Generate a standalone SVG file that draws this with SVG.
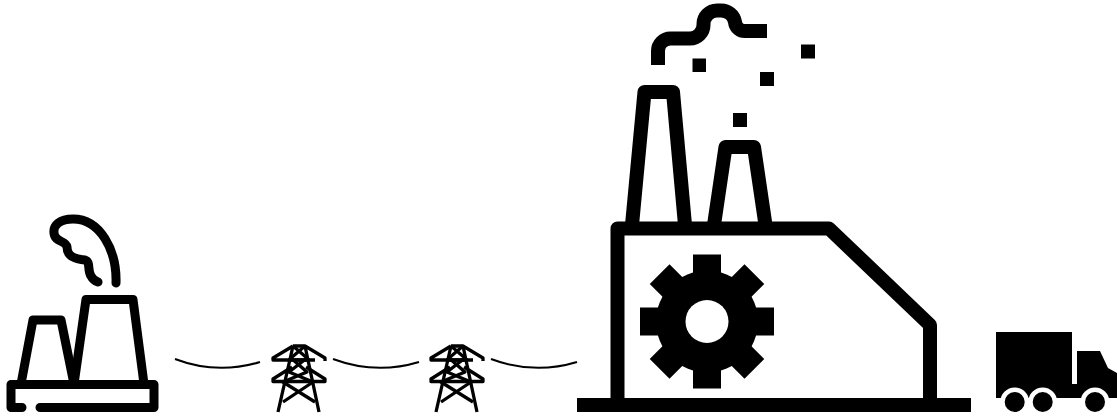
<svg xmlns="http://www.w3.org/2000/svg" xmlns:xlink="http://www.w3.org/1999/xlink" width="1117" height="416" viewBox="0 0 1117 416">
<style>
.plant{fill:none;stroke:#000;stroke-width:9;stroke-linecap:round;stroke-linejoin:round}
.fact{fill:none;stroke:#000;stroke-width:14;stroke-linejoin:round}
.wire{fill:none;stroke:#000;stroke-width:2}
.pyl{fill:none;stroke:#000;stroke-width:3.300;stroke-linejoin:round}
.solid{fill:#000;stroke:none}
</style>
<defs>
<g id="pylon">
<path class="pyl" d="M-5 346H7L27 358V361M-5 346L-25 358V360H17M-5 346L-20 412M7 346L21 412"/>
<path class="pyl" d="M-5 346L9 358L-9 372L15 382L-15 402M7 346L-7 358L9 372L-15 382L17 402"/>
<path class="pyl" d="M-6 367L-25 379V381.500H27V379L8 367M-10 360H12"/>
</g>
</defs>
<rect width="1117" height="416" fill="#fff"/>
<g id="connectors">
<path class="wire" d="M175 359Q217 375 260 362"/>
<path class="wire" d="M333 359Q376 375 419 362"/>
<path class="wire" d="M491 359Q534 375 577 362"/>
</g>
<g id="power-plant">
<path class="plant" d="M22 407.500H11V384.500H154V407.500H40"/>
<path class="plant" d="M21 384L33 320H61L74 384"/>
<path class="plant" d="M74 384L86 299.500H133L144 384"/>
<path class="plant" d="M116 283C117 250 100 219 73 219C60 219 53 225 54 233C55 243 66 240 67 247C67 256 74 259 85 260C91 262 87 270 91 276C93 280 95 281 98 282"/>
</g>
<g id="pylon-1"><use xlink:href="#pylon" href="#pylon" x="298"/></g>
<g id="pylon-2"><use xlink:href="#pylon" href="#pylon" x="456"/></g>
<g id="factory">
<path class="fact" d="M632 225L644.500 92H673L685 225"/>
<path class="fact" d="M714 225L725.500 147H754L765.500 225"/>
<path class="fact" d="M617.500 400V228.500H829L930 325V400"/>
<rect class="solid" x="577" y="398" width="394" height="14"/>
<path class="fact" d="M658 65V51A12.500 12.500 0 0 1 670.500 38.500H690A13.500 13.500 0 0 0 703.500 25V24A13.500 13.500 0 0 1 717 10.500H721A14 14 0 0 1 735 22A10 10 0 0 0 746 31H767"/>
<rect class="solid" x="692.500" y="58.500" width="13.500" height="13.500"/>
<rect class="solid" x="760" y="72" width="14" height="14"/>
<rect class="solid" x="801" y="44.500" width="14" height="14"/>
<rect class="solid" x="733" y="113" width="14" height="14"/>
<g transform="translate(707 321.500)">
<circle class="solid" r="51"/>
<rect class="solid" x="-14" y="-67" width="28" height="134"/>
<rect class="solid" x="-14" y="-67" width="28" height="134" transform="rotate(45)"/>
<rect class="solid" x="-14" y="-67" width="28" height="134" transform="rotate(90)"/>
<rect class="solid" x="-14" y="-67" width="28" height="134" transform="rotate(135)"/>
<circle r="21.500" fill="#fff"/>
</g>
</g>
<g id="truck">
<path class="solid" d="M996 332H1072V384H1077V351H1100L1108 368L1117 373V398H996Z"/>
<circle cx="1014.700" cy="402" r="14.500" fill="#fff"/>
<circle cx="1042.700" cy="402" r="14.500" fill="#fff"/>
<circle cx="1095" cy="402" r="14.500" fill="#fff"/>
<circle class="solid" cx="1014.700" cy="402" r="10"/>
<circle class="solid" cx="1042.700" cy="402" r="10"/>
<circle class="solid" cx="1095" cy="402" r="10"/>
</g>
</svg>
